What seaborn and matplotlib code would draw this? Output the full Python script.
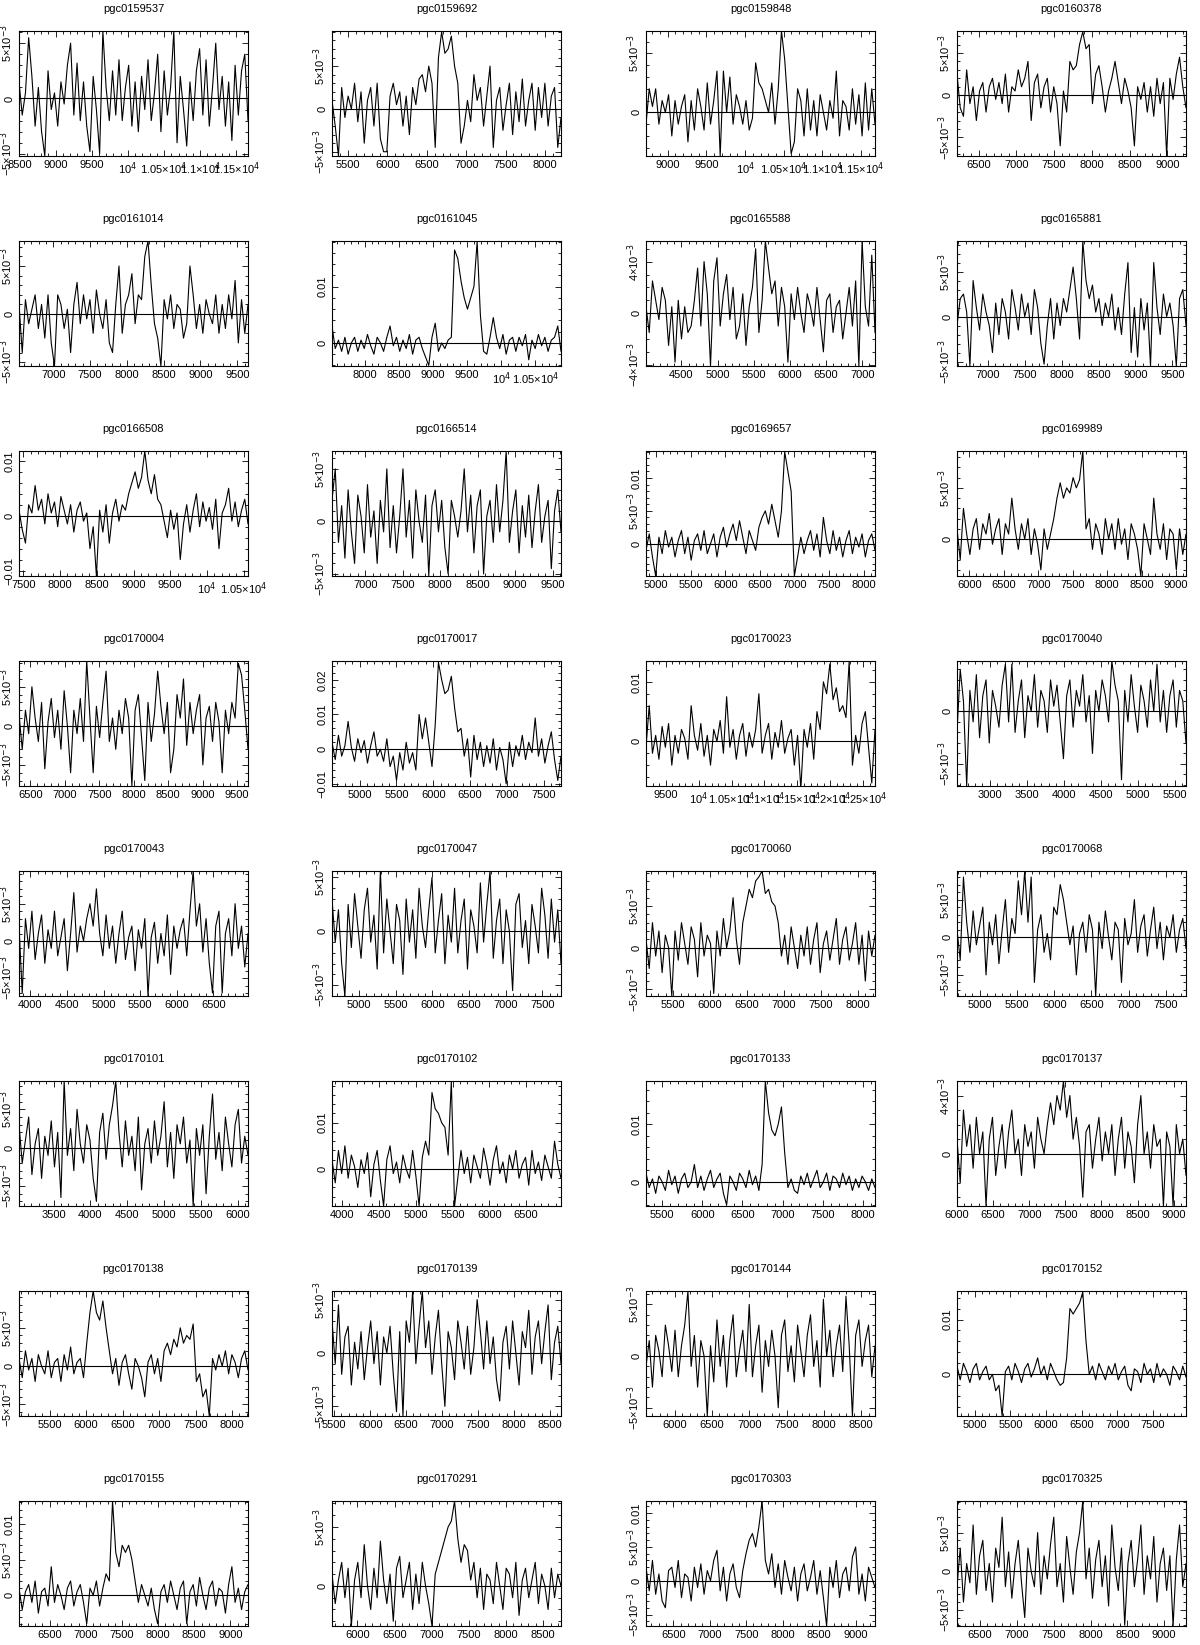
import numpy as np
import matplotlib
matplotlib.use("Agg")
import matplotlib.pyplot as plt
import seaborn as sns
from matplotlib.ticker import MultipleLocator, FuncFormatter

sns.set_theme(style="ticks", rc={"axes.edgecolor": "black", "xtick.color": "black",
                                 "ytick.color": "black", "text.color": "black"})
plt.rcParams['font.family'] = ['Liberation Sans', 'DejaVu Sans']

# galaxy names, in reading order (4 per row)
names = ["pgc0159537", "pgc0159692", "pgc0159848", "pgc0160378",
         "pgc0161014", "pgc0161045", "pgc0165588", "pgc0165881",
         "pgc0166508", "pgc0166514", "pgc0169657", "pgc0169989",
         "pgc0170004", "pgc0170017", "pgc0170023", "pgc0170040",
         "pgc0170043", "pgc0170047", "pgc0170060", "pgc0170068",
         "pgc0170101", "pgc0170102", "pgc0170133", "pgc0170137",
         "pgc0170138", "pgc0170139", "pgc0170144", "pgc0170152",
         "pgc0170155", "pgc0170291", "pgc0170303", "pgc0170325"]

# velocity range of each spectrum (km/s)
v_lo = [8495, 5297, 8720, 6215, 6533, 7520, 4010, 6584,
        7440, 6557, 4854, 5820, 6334, 4627, 9200, 2557,
        3844, 4631, 5131, 4692, 3031, 3863, 5300, 6000,
        5079, 5468, 5617, 4749, 6075, 5658, 6126, 6186]
v_hi = [11660, 8203, 11680, 9245, 9646, 10880, 7177, 9684,
        10560, 9613, 8165, 9146, 9656, 7733, 12680, 5655,
        6972, 7756, 8233, 7772, 6137, 6973, 8150, 9170,
        8219, 8658, 8684, 7966, 9243, 8740, 9266, 9296]

# flux axis range, units of 1e-3
f_lo = [-5.2, -5.5, -3.7, -7.2, -5.4, -4.1, -4.1, -5.5,
        -11.0, -5.2, -4.9, -3.6, -7.7, -10.6, -7.5, -7.1,
        -7.4, -6.0, -5.8, -7.8, -7.6, -8.0, -4.2, -3.6,
        -6.5, -5.9, -5.8, -7.6, -4.3, -3.4, -6.7, -7.1]
f_hi = [6.1, 9.1, 6.9, 7.6, 7.6, 18.1, 5.6, 8.4,
        11.8, 6.7, 14.1, 8.6, 8.3, 25.4, 13.5, 4.8,
        9.4, 5.6, 9.2, 8.8, 8.7, 19.0, 17.5, 5.0,
        9.8, 5.8, 6.3, 15.2, 13.2, 7.2, 11.8, 9.1]

# major flux tick step (1e-3)
f_step = [5, 5, 5, 5, 5, 10, 4, 5,
          10, 5, 5, 5, 5, 10, 10, 5,
          5, 5, 5, 5, 5, 10, 10, 4,
          5, 5, 5, 10, 5, 5, 5, 5]

# flux densities (1e-3 Jy), sampled evenly across each velocity range
s01 = [1.5, -1.5, 0.5, 5.5, 2.0, -2.5, 1.0, -3.0, -5.2, 2.5,
       -1.0, 0.5, -2.5, 1.5, -0.5, 3.0, 5.0, -1.5, 3.2, -2.0,
       1.5, -2.5, -4.8, 2.0, -1.0, -5.0, 6.1, 1.0, -2.0, 2.5,
       -1.5, 3.5, -2.0, 1.0, 3.0, -2.5, 1.5, -3.0, 2.0, -1.0,
       3.5, -2.0, 0.5, 4.0, -3.0, 2.5, -1.5, 1.0, 6.1, -4.0,
       2.0, -1.0, -4.3, 1.5, -2.0, 2.5, 4.5, -1.5, 3.5, -2.5,
       1.0, 5.0, -1.0, 2.0, -2.5, 1.5, -3.8, 3.0, -1.5, 2.5,
       4.0, -2.0]
s02 = [1.0, -2.0, -5.5, 2.5, -1.0, 1.5, 0.0, 3.0, -1.5, 2.0,
       -4.0, 1.0, 2.5, -2.0, 3.0, -3.5, -5.0, -5.0, 1.5, 3.0,
       0.5, 2.0, -2.0, 1.5, -3.0, 2.5, 0.5, 3.5, 4.0, 2.0,
       5.0, 3.0, -4.5, 6.0, 9.0, 6.5, 7.0, 8.5, 5.0, 3.0,
       -4.0, -2.0, 1.0, -1.5, 4.0, 1.0, 2.5, -2.0, 1.5, 5.0,
       -4.5, 1.0, 2.5, -2.5, 0.5, 3.0, -3.0, 2.0, -1.5, 3.5,
       -2.0, 1.0, 3.0, -2.5, 2.5, -1.0, 3.0, -2.0, 1.5, 2.5,
       -4.5, -1.0]
s03 = [-1.0, 2.0, 0.5, 2.0, -1.0, 1.0, 0.0, 1.5, -2.0, 1.0,
       -1.0, 0.5, 1.5, -2.5, 1.0, -1.5, 2.0, 0.5, -1.5, 2.5,
       -1.0, 1.0, 3.5, -3.7, 3.5, 0.0, 3.0, -1.0, 1.5, 0.5,
       -1.0, 1.0, -1.5, -0.5, 4.2, 2.5, 2.0, 1.0, 0.0, 2.5,
       -1.0, 2.0, 6.9, 4.5, 0.5, -3.5, -2.5, 2.0, 1.0, -2.0,
       2.0, -1.5, 1.0, -2.0, 1.5, 0.0, -1.5, 1.0, -0.5, 3.5,
       -2.0, 1.0, 0.5, -1.5, 2.0, -1.0, 1.5, -2.0, 2.5, -1.5,
       2.0, -1.0]
s04 = [2.5, -1.5, -2.5, 3.0, -1.0, 1.0, -3.0, 0.5, 1.5, -2.0,
       1.0, 2.0, -0.5, 1.5, -1.0, 2.5, -2.0, 1.0, 0.5, 3.0,
       1.0, 2.0, 4.0, -3.0, 1.5, 2.5, -1.5, 1.0, 2.0, -2.0,
       1.0, -1.0, -6.0, 0.5, -2.0, 4.0, 3.0, 3.5, 6.0, 7.5,
       5.5, 6.0, -1.0, 2.5, 3.5, 1.0, -2.0, 0.5, 2.0, 4.0,
       1.5, -1.0, 2.0, 0.5, -1.5, -6.0, 1.0, -0.5, 1.5, -2.0,
       1.0, -2.5, 2.0, -1.0, 1.5, -7.2, 2.0, -0.5, 2.5, 4.5,
       1.0, -1.5]
s05 = [1.0, -4.0, 1.5, -1.0, 0.5, 2.0, -1.5, 1.0, -2.5, 2.0,
       -3.0, -5.4, 2.0, 1.0, -1.5, 0.5, -4.0, 1.0, 3.3, -1.0,
       2.0, -0.5, 1.5, -2.0, 2.5, 0.0, -1.5, 1.5, -3.0, -4.0,
       1.0, 5.0, -2.0, 1.0, 2.0, 4.2, -1.0, 2.0, 1.5, 6.0,
       7.6, 3.0, -1.0, -2.5, -5.4, 1.5, -0.5, 2.0, -1.5, 1.0,
       0.5, -2.5, -1.0, 5.0, 2.0, -1.5, 1.0, -2.0, 1.5, 0.0,
       -1.0, 2.0, -2.0, 1.0, -1.5, 2.0, -0.5, 3.5, -3.0, 1.5,
       -2.0, 1.0]
s06 = [3.0, -1.0, 0.5, -1.5, 1.0, -2.0, 0.0, 1.0, -1.5, 0.5,
       -1.0, 1.5, -0.5, -2.0, 1.0, 0.0, -1.5, 1.0, 3.0, -0.5,
       1.0, -1.5, 0.5, -1.0, 1.5, -2.0, 0.5, 1.0, -1.0, -2.5,
       -4.0, 1.0, 3.5, -1.5, 0.0, -1.0, 0.5, 1.0, 16.5, 15.0,
       11.0, 8.0, 6.0, 8.0, 10.0, 18.0, 5.0, -1.5, -2.0, 1.0,
       4.5, 1.0, -1.0, 1.5, -2.0, 0.5, 1.0, -1.5, 1.0, -0.5,
       1.5, -3.0, 0.5, -1.0, 1.5, -0.5, 1.0, -1.5, 0.5, 1.0,
       3.0, -1.5]
s07 = [0.5, -1.5, 2.5, 1.0, -0.5, 2.0, 1.0, -2.5, 0.5, -3.8,
       1.0, -2.0, 0.5, -1.5, -1.0, 1.0, 3.5, -1.0, 4.0, 1.5,
       -4.1, 2.5, 4.3, -1.0, 1.5, 3.0, -0.5, 2.0, -2.0, -1.0,
       1.5, -2.5, 0.5, 2.0, 5.0, -1.5, 1.0, 5.6, 3.5, 1.5,
       2.5, -1.0, 2.0, 0.5, -3.8, 1.5, -0.5, 2.0, 0.0, -1.5,
       1.5, 0.5, -1.0, 2.0, -0.5, -3.0, 1.0, 1.5, -1.5, 0.5,
       1.0, -2.0, 0.0, 2.0, -1.0, 2.5, -4.1, 5.6, 0.5, -1.0,
       4.5, -1.5]
s08 = [-1.0, 2.0, 2.5, 0.5, -5.5, 4.0, 1.0, -1.5, 2.5, 0.5,
       -1.0, -4.0, 1.5, -2.0, 2.0, 0.5, -2.5, 3.0, 1.0, -1.5,
       2.5, 0.0, 1.5, -2.0, 3.0, 1.0, -3.0, -5.3, -1.0, 2.0,
       -2.5, 1.5, -1.0, 2.0, 0.5, 3.0, 5.5, 2.0, -2.5, 8.4,
       4.0, 2.0, 3.5, 0.5, 2.0, -1.0, 1.5, 0.0, 2.5, -1.5,
       1.0, -2.0, 2.5, 6.0, -4.0, 1.0, -4.5, 2.0, -1.5, 1.5,
       -5.5, 6.0, 1.0, -2.0, 2.5, 0.0, 1.5, -1.0, -5.5, 2.0,
       3.0, -1.0]
s09 = [1.0, -2.5, -5.0, 2.0, 0.5, 5.5, 1.0, 3.0, -1.5, 4.0,
       0.5, 2.5, -2.0, 3.5, 1.0, -1.5, 2.0, -3.0, 1.0, 2.5,
       -1.0, 0.5, -6.0, -2.0, -11.0, 1.0, -3.0, 2.0, -5.0, 0.5,
       3.0, -1.0, 2.0, 1.0, 4.0, 6.0, 8.0, 5.0, 7.0, 11.8,
       6.5, 4.0, 7.5, 3.0, 2.0, -1.0, -4.0, 1.0, -2.5, 0.5,
       -8.0, -1.5, 2.0, -3.0, 1.0, 4.0, -2.0, 2.5, -1.0, 1.5,
       -2.5, 3.0, -6.0, 0.5, 2.0, 5.0, -1.0, 2.5, -2.0, 1.0,
       3.0, -1.5]
s10 = [2.0, 5.0, -2.0, 1.5, -3.5, 3.0, -1.0, -4.0, 2.5, 0.5,
       -3.0, 3.5, -1.5, 1.0, -4.0, 2.0, -1.0, 5.0, -2.5, 1.5,
       -3.0, 0.5, 5.0, -1.5, 2.0, -3.5, 3.0, 0.0, -2.0, 2.5,
       -5.2, 1.5, 3.0, -1.0, 2.0, -2.5, -5.0, 2.0, 0.5, -1.5,
       1.0, 5.0, -1.0, 2.5, -3.0, 1.5, 3.0, -5.0, 0.5, 2.0,
       -2.0, 3.5, -1.0, 2.0, 6.7, -2.0, 1.0, 3.0, -3.0, 1.5,
       -1.5, 2.5, -2.5, 1.0, 3.5, -2.0, 0.5, 2.0, -4.5, 1.0,
       3.0, -1.0]
s11 = [-1.0, 1.5, -2.0, -4.9, 1.0, -1.5, 2.0, -0.5, 1.0, -2.0,
       0.5, 2.0, -1.5, 1.0, -2.5, 0.5, 1.5, -1.0, 2.0, -1.5,
       0.0, 1.5, -2.0, 1.0, 2.5, -0.5, 1.5, 3.0, 0.5, 3.5,
       1.0, -1.5, 2.0, 0.5, -1.0, 2.5, 4.0, 5.0, 3.0, 6.0,
       3.5, 1.0, 5.0, 14.0, 11.0, 8.0, -4.9, -2.0, 1.0, -1.5,
       0.5, 2.0, -1.0, 1.5, -2.0, 4.0, 0.5, -1.5, 2.0, -1.0,
       1.0, -2.0, 0.5, 2.0, -1.5, 1.0, -0.5, 1.5, -2.0, 0.5,
       1.5, -1.0]
s12 = [1.0, -2.0, 3.0, 0.5, -1.5, 1.0, 2.0, -1.0, 1.5, 0.5,
       2.5, -0.5, 1.0, 2.0, -1.5, 1.5, 0.5, 4.0, 1.0, -1.0,
       1.5, 0.0, 2.0, -1.5, 1.0, -0.5, -3.0, 1.0, -1.0, 0.5,
       2.0, 4.0, 5.5, 4.0, 5.0, 4.5, 6.0, 5.0, 5.8, 8.6,
       1.0, 2.0, -1.0, 1.5, 0.5, -1.5, 2.0, 0.0, 1.5, -1.0,
       2.0, -0.5, 1.0, -2.0, 1.5, 0.5, -1.0, -3.6, 1.5, 0.0,
       -1.5, 4.0, 0.5, -1.0, 1.5, -2.0, 1.0, 0.5, -3.0, 1.0,
       -1.5, 0.5]
s13 = [1.5, -3.0, 2.0, -1.0, 5.0, 1.0, -2.0, 3.0, -5.5, 0.5,
       3.5, -1.5, 2.0, -3.0, 4.5, 0.0, -6.0, 2.0, -1.0, 3.5,
       -2.0, 8.3, 1.0, -6.0, 2.5, -1.5, 3.0, 7.0, -2.0, 1.0,
       -3.0, 2.0, -1.0, 3.5, 1.0, -7.7, 2.0, 4.0, -1.5, -7.0,
       3.0, -2.0, 1.5, 7.0, 2.5, -1.0, 3.0, -6.0, -3.0, 4.0,
       1.0, 6.0, -2.5, 3.0, -1.0, 2.0, 4.0, -5.0, 1.0, 2.5,
       -2.0, 3.0, 0.5, -6.0, 2.0, -1.0, 3.0, 1.0, 8.0, 6.5,
       2.0, -3.0]
s14 = [2.0, -3.0, 4.0, -2.0, 1.0, 8.0, 0.5, -3.5, 3.0, -1.0,
       2.5, -4.0, 1.0, 5.0, -2.0, 0.0, -3.5, 3.0, -5.0, -2.0,
       -9.0, -1.0, -6.0, 2.0, -4.0, -1.0, -6.0, 10.0, 3.0, 9.0,
       2.0, -5.0, 7.0, 25.0, 20.0, 16.0, 17.0, 21.0, 12.0, 5.0,
       6.0, -2.0, 3.0, -8.0, 4.0, -3.0, 2.0, -5.0, 1.0, -4.0,
       3.0, -6.0, 0.5, -3.0, -10.0, 2.0, -5.0, 1.0, -2.0, 4.0,
       -3.0, 2.0, -1.0, 9.0, -2.0, 3.0, -4.0, 1.0, 5.0, -3.0,
       -9.0, -2.0]
s15 = [-1.0, 6.0, -2.0, 1.0, -3.0, 2.5, -1.0, 3.0, -4.0, 1.0,
       -2.0, 2.0, 0.5, -3.0, 6.0, 1.0, -1.5, 3.0, -2.5, 1.0,
       -4.0, 2.0, 0.0, 3.5, -2.0, 7.5, -1.0, 2.0, -3.0, 1.0,
       3.0, -2.5, 1.5, -1.0, 2.0, 8.0, -2.0, 1.0, 3.0, -3.0,
       1.5, -1.0, 3.5, -2.0, 0.5, 2.0, -4.0, 1.0, -8.0, 2.0,
       -1.0, 3.0, -3.0, 5.0, 2.0, 10.0, 8.0, 13.0, 7.0, 9.0,
       5.0, 6.0, 4.0, 13.5, -4.0, 1.0, -2.0, 3.0, 5.0, -1.0,
       -7.0, 2.0]
s16 = [-2.0, 4.0, 1.0, -7.1, 2.0, -1.0, 3.5, -2.5, 1.5, 3.0,
       -3.0, 2.0, 0.5, -1.5, 2.5, 4.5, -1.0, 4.5, -2.0, 1.0,
       3.0, -2.5, 1.5, 0.0, 3.5, -1.5, 2.0, 1.0, -2.0, 3.0,
       0.5, 2.5, -1.0, -4.5, 1.5, 3.0, -1.5, 2.0, 0.5, 3.5,
       -1.0, 1.5, -4.0, 2.0, 0.0, 3.0, 1.5, -1.0, 4.8, 2.5,
       1.0, -6.5, 2.0, -1.0, 3.5, 0.5, -2.0, 2.5, 1.0, -1.5,
       3.0, 0.0, 4.5, -1.0, 2.0, -2.0, 1.5, 3.0, -1.5, 2.0,
       1.0, -3.0]
s17 = [2.0, -7.0, 3.0, -1.0, 4.0, -2.5, 1.0, 3.5, -3.0, 1.5,
       -1.0, 4.0, -2.0, 0.5, 3.0, -4.0, 1.0, 6.5, -1.5, 2.0,
       0.0, 3.0, 5.0, 2.0, 7.0, 1.0, -2.0, 3.5, -1.0, 2.0,
       -3.0, 1.0, 4.0, -2.5, 0.5, 2.0, -4.0, 1.5, -1.0, 3.0,
       -7.4, 0.5, 2.5, -3.0, 1.0, -2.0, 3.5, -4.5, 2.0, -1.0,
       1.5, 3.0, -2.0, 4.0, 9.4, 2.0, 5.0, -1.5, 3.0, -3.0,
       -7.0, 2.0, 4.0, -7.0, 1.0, 3.0, -2.0, 5.0, -1.0, 2.0,
       -3.5, 1.0]
s18 = [3.0, -1.0, 2.0, -3.0, -6.0, 2.5, -1.5, 3.5, 0.5, -2.5,
       2.0, 4.0, -1.0, 1.5, -3.5, 5.6, -2.0, 3.0, 0.0, -3.0,
       2.5, 1.0, -4.0, 3.0, -1.0, 2.0, -2.5, 4.0, 0.5, -1.5,
       2.0, 5.0, -2.0, 1.0, 3.5, -3.0, 1.5, -1.0, 4.0, -2.0,
       1.0, 3.0, -3.5, 2.0, 0.5, -2.0, 4.5, -1.0, 2.5, 5.6,
       -2.5, 1.0, 3.0, -3.0, 2.0, 0.0, -5.5, 2.5, 3.5, -1.5,
       1.0, -3.0, 2.5, 0.5, -2.0, 4.0, 1.5, -2.5, 3.0, -1.0,
       2.0, -3.0]
s19 = [1.0, -2.5, 3.0, -1.0, 2.0, -3.0, 1.5, 0.0, -5.8, 2.0,
       -1.5, 3.0, 0.5, -2.0, 2.5, 1.0, -3.5, 3.0, -1.0, 1.5,
       0.5, -5.5, 2.0, -1.0, 3.5, 0.0, 2.0, 6.0, 1.0, -2.0,
       3.0, 5.0, 7.0, 6.0, 8.0, 8.5, 9.2, 6.5, 7.0, 5.5,
       5.0, 3.0, -1.0, 1.5, -2.0, 2.5, 0.0, -2.5, 1.5, -1.0,
       2.5, -2.0, 1.0, 3.0, -3.0, 0.5, 2.0, -1.5, 1.0, 3.5,
       -2.0, 1.0, 2.5, -1.5, 0.5, 3.0, -2.0, 1.5, -4.0, 2.0,
       -1.0, 1.5]
s20 = [1.0, -3.0, 8.0, 2.0, -2.0, 3.5, -1.0, 1.5, 4.0, -5.0,
       2.0, -1.0, 3.0, -3.5, 1.0, 5.0, -2.0, 2.5, 0.5, 7.5,
       3.0, 8.8, 2.0, 8.0, -6.0, 1.0, 3.0, -2.0, 0.5, -3.0,
       4.0, 3.0, 7.0, 5.0, 2.0, -1.0, 1.5, -5.0, 0.5, 2.0,
       -2.0, 3.0, 1.0, -7.8, 2.0, -1.5, 3.5, 0.0, -3.0, 2.0,
       1.0, -6.0, 2.5, -1.0, 0.5, 5.0, -2.0, 1.5, 3.0, -2.5,
       1.0, 4.0, -1.5, 2.0, -3.0, 1.5, 0.0, 3.0, -2.0, 1.0,
       2.5, -1.5]
s21 = [3.0, -2.0, 1.0, 4.0, -3.5, 0.5, 2.5, -4.0, 1.5, -1.0,
       3.5, -2.5, 2.0, -6.5, 8.7, -1.0, 2.5, -3.0, 5.0, 0.5,
       -2.0, 3.0, 1.0, -4.0, -7.0, 2.0, 4.5, -1.5, 3.0, 5.5,
       8.7, 2.0, -2.5, 3.5, -1.0, 1.5, -3.0, 4.0, -5.5, 0.5,
       2.5, -2.0, 3.5, -1.0, 1.5, 6.0, -2.5, 2.0, -4.0, 3.0,
       0.5, 4.0, -2.0, 1.0, -7.6, 2.5, -1.0, 3.0, -6.0, 1.5,
       7.0, -1.5, 2.0, -3.0, 4.0, 0.5, -2.5, 3.0, 5.0, -2.0,
       1.5, -1.0]
s22 = [2.0, -3.0, 4.0, -1.0, 5.0, -2.0, 3.0, 0.5, -4.0, 2.0,
       -1.0, 3.5, -6.0, 1.0, 4.0, -2.5, -8.0, 2.0, 5.0, -1.0,
       1.5, -3.0, 3.0, 0.0, -2.0, 4.0, -1.5, -8.0, 2.5, 6.0,
       3.0, 16.5, 13.0, 12.0, 10.0, 9.0, 3.0, 19.0, -8.0, -2.0,
       4.0, -1.0, 2.5, -3.0, 3.0, 0.5, -2.0, 4.5, 1.0, -3.5,
       2.0, 5.0, -1.0, 1.5, -3.0, 3.0, 0.0, 4.0, -2.0, 1.0,
       2.5, -3.5, 4.0, -1.0, 1.5, -2.5, 3.0, 0.5, -2.0, 6.0,
       1.0, -2.0]
s23 = [1.5, -1.0, 0.5, -2.0, 1.0, 0.0, -1.5, 2.0, -0.5, 1.0,
       -2.0, 0.5, 1.5, -1.0, 0.0, 3.0, -1.0, 1.0, -1.5, 0.5,
       2.0, -1.0, 0.5, 1.5, -2.0, -4.0, 1.0, 0.0, -1.5, 1.5,
       0.5, -1.0, 2.0, -0.5, 1.0, -1.5, 3.0, 17.5, 12.0, 9.0,
       8.0, 10.0, 13.0, 5.0, -1.0, 0.5, -1.5, -2.0, 1.0, -0.5,
       1.5, -1.0, 0.5, 2.0, -1.0, 0.0, 1.5, -1.5, 1.0, 0.5,
       -1.0, 1.5, -0.5, 1.0, -1.5, 0.5, -1.0, 1.0, 0.0, -1.5,
       0.5, -1.0]
s24 = [1.0, -2.0, 3.0, 0.5, 2.0, -1.0, 2.5, 0.0, 1.5, -3.6,
       1.0, 2.5, -1.5, 0.5, 2.0, -1.0, 1.5, 3.0, 0.0, 1.0,
       -1.5, 2.0, 0.5, 1.5, -1.0, 2.5, 1.0, 0.0, 2.0, 3.5,
       2.0, 4.0, 3.0, 5.0, 2.5, 4.0, 1.0, 2.5, 0.5, -3.0,
       1.5, 2.0, -1.0, 1.0, 2.5, -0.5, 1.5, 0.0, 2.0, -1.5,
       1.0, 2.5, -1.0, 1.5, 0.5, -2.0, 2.0, 4.0, 0.0, 1.5,
       -1.0, 2.0, 0.5, 1.0, -3.6, 1.5, 0.5, -3.6, 2.0, 0.0,
       1.0, -1.5]
s25 = [1.0, -1.5, 2.0, -0.5, 1.0, -2.0, 1.5, 0.0, -1.0, 2.0,
       -1.5, 0.5, 1.0, -2.0, 1.5, -0.5, 2.5, -1.0, 0.5, 1.0,
       -1.5, 3.0, 7.0, 9.8, 7.0, 6.0, 8.5, 5.0, 2.0, -1.0,
       1.0, -2.5, 0.5, 1.5, -1.0, -3.0, 1.0, 0.0, -1.5, -4.0,
       0.5, 1.5, -1.0, 1.0, -2.0, 2.0, 3.0, 1.5, 3.5, 2.5,
       5.0, 3.0, 4.0, 3.5, 5.5, -2.0, -1.0, -4.0, -3.0, -6.5,
       1.0, -0.5, 1.5, 0.0, 2.0, -1.0, 1.5, 0.5, -1.5, 1.0,
       2.0, -0.5]
s26 = [3.0, -1.0, 4.5, -2.0, 1.5, 2.5, -3.0, 1.0, -1.5, 2.0,
       -2.5, 0.5, 3.0, -1.0, 2.0, -3.0, 1.5, 0.0, 2.5, -2.0,
       -5.5, 2.0, -5.9, 3.0, 1.0, 5.8, -1.0, 2.5, 5.8, 0.5,
       3.0, -2.0, 1.5, 4.0, -1.0, -5.0, 2.0, 0.5, -2.5, 3.0,
       1.0, -1.5, 2.5, -2.0, 0.5, 5.0, 2.0, -1.5, 3.0, -1.0,
       1.5, -2.5, -4.5, 1.0, 2.5, -1.5, 3.0, 0.0, -3.0, 2.0,
       0.5, 4.0, -2.0, 1.5, 3.0, -1.0, 2.0, 4.5, -2.5, 1.0,
       2.5, -1.0]
s27 = [-1.0, 1.5, -3.0, 2.0, 0.5, -2.0, 3.0, 1.0, -1.5, 2.5,
       -2.0, 1.0, 3.0, 6.3, -1.0, 2.0, -3.0, 1.5, 0.0, -5.8,
       1.0, -2.5, 3.5, -1.0, 2.0, -3.0, 1.5, 4.0, -2.0, 0.5,
       2.5, -1.5, 5.0, -2.0, 1.0, 3.0, -3.5, 1.5, -1.0, 2.5,
       0.0, -5.0, 2.0, 3.5, -1.5, 1.0, -2.5, 3.0, 0.5, -2.0,
       2.0, 4.0, -1.0, 1.5, -3.0, 5.5, 0.0, 2.5, -2.0, 1.0,
       3.0, -1.5, 5.8, 1.0, -5.8, 2.0, 3.5, -1.0, 1.5, 3.0,
       -2.0, 1.0]
s28 = [1.5, -1.0, 2.0, 0.5, -1.5, 1.0, 2.0, -1.0, 0.5, 1.5,
       -1.0, 0.0, -3.0, -2.0, -7.6, 0.5, 1.5, -1.0, 2.0, 0.5,
       -1.5, 1.0, 2.0, -0.5, 1.0, 3.0, 0.0, 1.5, -1.0, 2.0,
       0.5, -1.0, -2.0, -1.5, 3.0, 12.0, 11.0, 12.0, 13.0, 15.0,
       6.0, 0.0, 1.5, -1.0, 2.0, 0.5, -1.0, 1.5, 0.0, 2.0,
       -1.0, 0.5, 1.5, -2.0, -3.0, 1.0, 0.5, -1.5, 2.0, 0.0,
       1.0, -1.5, 2.0, -0.5, 1.0, 0.0, -2.0, 1.5, 0.5, -1.0,
       1.5, -0.5]
s29 = [1.0, -2.0, 0.5, 1.5, -1.0, 2.0, -2.5, 0.5, 1.0, -1.5,
       4.0, -1.0, 1.5, 0.0, -2.0, 1.0, 2.0, -1.5, 0.5, 1.5,
       -1.0, -4.0, 1.0, 0.0, 2.0, -1.5, 1.0, 3.0, 2.0, 13.2,
       6.0, 4.0, 7.0, 6.0, 7.0, 5.0, 2.0, -1.0, 1.5, 0.0,
       -1.5, 1.0, -2.0, -4.0, 0.5, 1.5, -1.0, 2.0, 0.0, -2.0,
       1.0, 2.0, -4.0, 0.5, 1.5, -1.5, 2.5, 0.0, -2.0, 1.0,
       2.0, -1.5, 1.0, 0.5, -2.5, 1.5, 4.0, -1.0, 1.0, -2.0,
       0.5, 1.5]
s30 = [1.0, -1.5, 0.5, 2.0, -1.0, 1.5, -3.4, 0.5, 2.0, -1.0,
       3.5, 0.0, -2.0, 1.5, -1.0, 3.8, 0.5, -1.5, 1.0, -3.0,
       1.5, 2.5, -1.0, 0.5, 2.0, -2.0, 1.0, -1.5, 2.0, 0.0,
       -1.5, -3.4, 1.0, 2.0, 3.0, 4.0, 5.0, 5.5, 7.2, 4.0,
       2.0, 3.5, 3.0, 0.5, 2.0, -1.0, 1.5, -2.0, 1.0, 0.5,
       -1.5, 2.0, 0.0, -2.0, 1.5, 1.0, -1.0, 2.0, -2.5, 0.5,
       1.5, -1.0, 0.5, 2.0, -1.5, 1.0, 0.0, -2.0, 1.5, -1.0,
       1.0, 0.0]
s31 = [2.0, -1.5, 3.0, -2.0, 1.0, -3.0, -4.0, 1.5, 2.0, -1.0,
       3.0, -2.5, 1.0, 0.5, -3.0, 2.0, -1.0, 2.5, -2.0, 1.5,
       0.0, 3.0, 4.5, -1.5, 2.0, -3.0, 1.0, 2.5, -1.0, -2.5,
       1.5, 4.0, 6.0, 7.0, 5.0, 8.0, 11.8, 3.0, 1.0, 4.0,
       -1.0, 2.5, -2.0, 3.0, 0.5, -1.5, 2.0, -3.0, 1.0, 2.5,
       -1.5, 0.5, 3.0, -2.0, 1.5, -2.5, -6.7, 2.0, -1.0, 3.0,
       -2.5, 1.0, 2.0, -1.5, 3.5, 5.0, -2.0, 1.0, -3.0, 2.0,
       0.5, -1.0]
s32 = [-2.0, 3.0, -4.0, 1.0, -1.5, 6.0, -3.0, 2.0, 4.0, -2.5,
       1.0, -4.0, 3.0, 0.5, 7.0, -2.0, 2.5, -3.5, 1.0, 4.0,
       -1.5, -6.0, 3.0, 0.0, -2.0, 5.0, -3.0, 2.0, -1.0, 3.5,
       7.0, -2.0, 1.0, -4.0, 4.5, 0.5, -3.0, 2.5, 5.0, 9.1,
       -1.0, 3.0, -3.5, 1.5, 4.0, -2.0, 2.0, -4.5, 6.0, 0.5,
       -2.5, 3.0, -7.0, 1.0, 4.0, -2.0, 1.5, 6.0, -3.0, 2.0,
       -1.0, 4.5, -4.0, 1.0, 3.0, -2.5, 2.0, -7.1, 1.5, 6.0,
       -2.0, 1.0]

spectra = [s01, s02, s03, s04, s05, s06, s07, s08,
           s09, s10, s11, s12, s13, s14, s15, s16,
           s17, s18, s19, s20, s21, s22, s23, s24,
           s25, s26, s27, s28, s29, s30, s31, s32]


def vel_label(v, pos):
    v = int(round(v))
    if v < 10000:
        return f"{v}"
    if v == 10000:
        return r"10$^{4}$"
    return f"{v / 1e4:g}" + r"×10$^{4}$"


def flux_label(v, pos):
    # v is in units of 1e-3
    v = round(v, 6)
    if abs(v) < 1e-9:
        return "0"
    sign = "−" if v < 0 else ""
    a = abs(v)
    if abs(a / 10 - round(a / 10)) < 1e-6:
        return sign + f"{a / 1000:g}"
    return sign + f"{a:g}" + r"×10$^{-3}$"


W, H = 1200, 1645
fig = plt.figure(figsize=(W / 100, H / 100), dpi=100)

col_left = [19, 332, 646, 957]
ax_w, ax_h = 229, 125

for k in range(len(names)):
    r, c = divmod(k, 4)
    top = 31 + 210 * r
    ax = fig.add_axes([col_left[c] / W, 1 - (top + ax_h) / H, ax_w / W, ax_h / H])

    vel = np.linspace(v_lo[k], v_hi[k], len(spectra[k]))
    sns.lineplot(x=vel, y=spectra[k], ax=ax, color="black", linewidth=0.8,
                 estimator=None, sort=False)
    ax.axhline(0, color="black", linewidth=0.8)

    ax.set_xlim(v_lo[k], v_hi[k])
    ax.set_ylim(f_lo[k], f_hi[k])
    ax.set_xlabel("")
    ax.set_ylabel("")
    ax.set_title(names[k], fontsize=8, pad=14)

    ax.xaxis.set_major_locator(MultipleLocator(500))
    ax.xaxis.set_minor_locator(MultipleLocator(100))
    ax.yaxis.set_major_locator(MultipleLocator(f_step[k]))
    ax.yaxis.set_minor_locator(MultipleLocator(2 if f_step[k] == 10 else 1))
    ax.xaxis.set_major_formatter(FuncFormatter(vel_label))
    ax.yaxis.set_major_formatter(FuncFormatter(flux_label))

    ax.tick_params(which="both", direction="in", top=True, right=True,
                   width=0.6, labelsize=8, pad=3)
    ax.tick_params(which="major", length=4)
    ax.tick_params(which="minor", length=2)
    ax.tick_params(axis="y", labelrotation=90)
    for t in ax.yaxis.get_major_ticks():
        t.label1.set_va("center")
    for s in ax.spines.values():
        s.set_linewidth(0.8)

fig.savefig("out.png", dpi=100)
